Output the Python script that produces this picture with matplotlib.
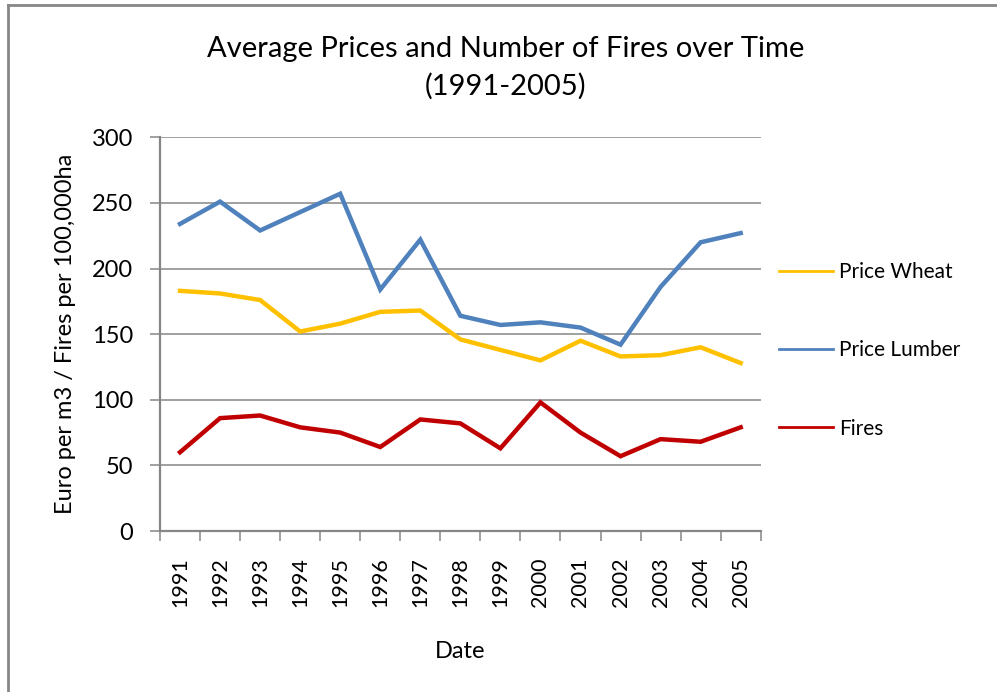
import matplotlib
matplotlib.use("Agg")
import matplotlib.pyplot as plt
from matplotlib.lines import Line2D

years = [str(y) for y in range(1991, 2006)]
price_wheat = [183, 181, 176, 152, 158, 167, 168, 146, 138, 130, 145, 133, 134, 140, 128]
price_lumber = [234, 251, 229, 243, 257, 184, 222, 164, 157, 159, 155, 142, 186, 220, 227]
fires = [60, 86, 88, 79, 75, 64, 85, 82, 63, 98, 75, 57, 70, 68, 79]

plt.rcParams['font.family'] = ['Lato', 'DejaVu Sans']

fig = plt.figure(figsize=(9.97, 6.92), dpi=100)
ax = fig.add_axes([160 / 997, 1 - 531 / 692, 600.7 / 997, (531 - 137.3) / 692])

x = list(range(len(years)))
ax.plot(x, price_wheat, color='#FFC000', lw=3.2, label='Price Wheat', solid_joinstyle='miter')
ax.plot(x, price_lumber, color='#4F81BD', lw=3.2, label='Price Lumber', solid_joinstyle='miter')
ax.plot(x, fires, color='#C00000', lw=3.2, label='Fires', solid_joinstyle='miter')

ax.set_xlim(-0.5, len(years) - 0.5)
ax.set_ylim(0, 300)
ax.set_yticks(range(0, 301, 50))
ax.yaxis.grid(True, color='#868686', lw=1.1)
ax.set_axisbelow(True)

ax.set_xticks(x)
ax.set_xticklabels(years, rotation=90, fontsize=15.5)
ax.set_xticks([i - 0.5 for i in range(len(years) + 1)], minor=True)
ax.tick_params(axis='x', which='major', length=0, pad=19)
ax.tick_params(axis='x', which='minor', length=7, width=1.1, color='#868686', direction='out')
ax.tick_params(axis='y', length=7, width=1.1, color='#868686', labelsize=17, pad=12.5)

for s in ['top', 'right']:
    ax.spines[s].set_visible(False)
for s in ['left', 'bottom']:
    ax.spines[s].set_color('#868686')
    ax.spines[s].set_linewidth(1.6)

ax.set_xlabel('Date', fontsize=17, labelpad=24)
ax.set_ylabel('Euro per m3 / Fires per 100,000ha', fontsize=17, labelpad=11)

fig.text(0.507, 1 - 68 / 692, 'Average Prices and Number of Fires over Time\n(1991-2005)',
         ha='center', va='center', fontsize=21, linespacing=1.5)

leg = ax.legend(loc='center left', bbox_to_anchor=(1.0, 0.459), frameon=False,
                fontsize=15, handlelength=2.55, labelspacing=2.8, handletextpad=0.3)
for ln in leg.get_lines():
    ln.set_linewidth(2)

# outer chart frame
fig.add_artist(Line2D([8 / 997, 8 / 997], [0, 1 - 5 / 692], color='#868686', lw=2, transform=fig.transFigure))
fig.add_artist(Line2D([8 / 997, 1], [1 - 5 / 692, 1 - 5 / 692], color='#868686', lw=2, transform=fig.transFigure))

fig.savefig('out.png', dpi=100)
